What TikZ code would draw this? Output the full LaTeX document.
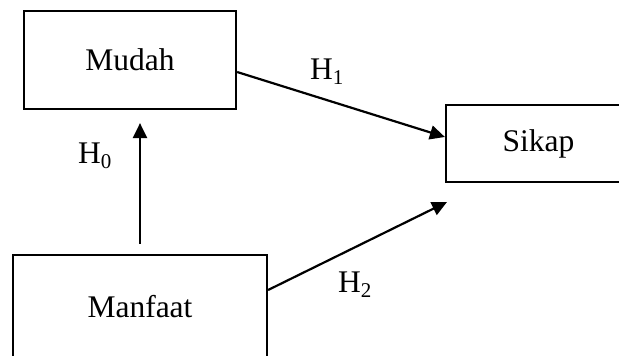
\documentclass[tikz,border=0pt]{standalone}
\usepackage{fontspec}
\setmainfont{Liberation Serif}
\usetikzlibrary{arrows.meta}
\newcommand{\hsub}[1]{H\raisebox{-5pt}{\fontsize{21}{21}\selectfont #1}}
\begin{document}
\begin{tikzpicture}[x=1pt,y=-1pt,
  box/.style={draw,line width=2.2pt,rectangle,inner sep=0pt,font=\fontsize{31.5}{36}\selectfont},
  conn/.style={line width=2.2pt,-{Triangle[length=15pt,width=14pt]}},
  lbl/.style={inner sep=0pt,anchor=base west,font=\fontsize{31.5}{36}\selectfont}]
\useasboundingbox[fill=white] (0,0) rectangle (619,356);
\node[box,minimum width=212pt,minimum height=98pt] (mudah) at (130,60) {Mudah};
\node[box,minimum width=185pt,minimum height=77pt] (sikap) at (538.5,143.5) {Sikap};
\node[box,minimum width=254pt,minimum height=103pt] (manfaat) at (140,306.5) {Manfaat};
\coordinate (h1s) at ([yshift=-12pt]mudah.east);
\coordinate (h1e) at ([yshift=6.5pt]sikap.west);
\coordinate (h2s) at ([yshift=16.5pt]manfaat.east);
\coordinate (h2e) at (447,202);
\coordinate (h0s) at ([yshift=10pt]manfaat.north);
\coordinate (h0e) at ([yshift=-13pt]h0s |- mudah.south);
\draw[conn] (h0s) -- (h0e);
\draw[conn] (h1s) -- (h1e);
\draw[conn] (h2s) -- (h2e);
\node[lbl] (l0) at (78,163) {\hsub{0}};
\node[lbl] (l1) at (310,79) {\hsub{1}};
\node[lbl] (l2) at (338,292) {\hsub{2}};
\end{tikzpicture}
\end{document}
